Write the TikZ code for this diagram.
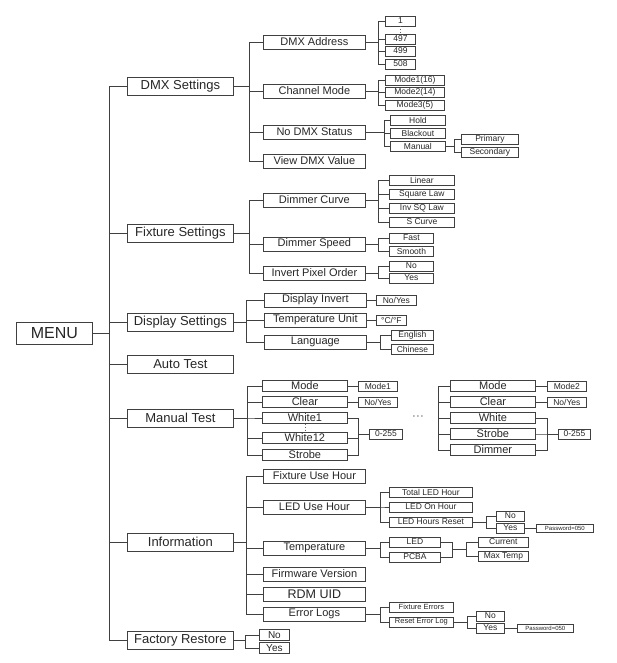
\documentclass[tikz,border=0pt]{standalone}
\usepackage{fontspec}
\setmainfont{Liberation Sans}
\begin{document}
\begin{tikzpicture}[x=1pt,y=-1pt,
  every node/.style={draw=black!75,line width=0.8pt,inner sep=0pt,anchor=west,text=black!85},
  LM/.style={minimum height=22pt,font=\fontsize{16}{16}\selectfont},
  LA/.style={minimum height=18pt,minimum width=106pt,font=\fontsize{13}{13}\selectfont},
  LB/.style={minimum height=14pt,font=\fontsize{11}{11}\selectfont},
  LC/.style={minimum height=10pt,font=\fontsize{8.5}{8.5}\selectfont},
  LD/.style={minimum height=8pt,font=\fontsize{6}{6}\selectfont},
  ln/.style={draw=black!75,line width=0.8pt}]
\useasboundingbox (0,0) rectangle (617,663);
\newcommand\tr[3]{\foreach \c in {#3} \draw[ln] (#1.east) -- ++(#2,0) |- (\c.west);}
\newcommand\bk[3]{\foreach \c in {#3} \draw[ln] (\c.east) -- ++(#2,0) |- (#1.west);}
% root
\node[LM,minimum width=76pt] (menu) at (16,333) {MENU};
\node[LA] (dmx) at (127,86) {DMX Settings};
\node[LA] (fix) at (127,233) {Fixture Settings};
\node[LA] (dsp) at (127,322) {Display Settings};
\node[LA] (aut) at (127,364) {Auto Test};
\node[LA] (man) at (127,418) {Manual Test};
\node[LA] (inf) at (127,542) {Information};
\node[LA] (fac) at (127,640) {Factory Restore};
\tr{menu}{17}{dmx,fix,dsp,aut,man,inf,fac}
% DMX
\begin{scope}[every node/.append style={minimum width=102pt}]
\node[LB] (da) at (263,42) {DMX Address};
\node[LB] (cm) at (263,91) {Channel Mode};
\node[LB] (nd) at (263,132) {No DMX Status};
\node[LB] (vd) at (263,161) {View DMX Value};
\end{scope}
\tr{dmx}{16}{da,cm,nd,vd}
\begin{scope}[every node/.append style={minimum width=30pt}]
\node[LC] (a1) at (385,21) {1};
\node[LC] (a2) at (385,39) {497};
\node[LC] (a3) at (385,51) {499};
\node[LC] (a4) at (385,64) {508};
\end{scope}
\draw[dotted,thick,black!60] (a1.south) -- (a2.north);
\tr{da}{13}{a1,a2,a3,a4}
\begin{scope}[every node/.append style={minimum width=59pt}]
\node[LC] (m1) at (385,80) {Mode1(16)};
\node[LC] (m2) at (385,92) {Mode2(14)};
\node[LC] (m3) at (385,105) {Mode3(5)};
\end{scope}
\tr{cm}{13}{m1,m2,m3}
\begin{scope}[every node/.append style={minimum width=55pt}]
\node[LC] (h1) at (390,120) {Hold};
\node[LC] (h2) at (390,133) {Blackout};
\node[LC] (h3) at (390,146) {Manual};
\end{scope}
\tr{nd}{19}{h1,h2,h3}
\begin{scope}[every node/.append style={minimum width=57pt}]
\node[LC] (p1) at (461,139) {Primary};
\node[LC] (p2) at (461,152) {Secondary};
\end{scope}
\tr{h3}{9}{p1,p2}
% Fixture
\begin{scope}[every node/.append style={minimum width=102pt}]
\node[LB] (dc) at (263,200) {Dimmer Curve};
\node[LB] (ds) at (263,244) {Dimmer Speed};
\node[LB] (ip) at (263,273) {Invert Pixel Order};
\end{scope}
\tr{fix}{16}{dc,ds,ip}
\begin{scope}[every node/.append style={minimum width=65pt}]
\node[LC] (c1) at (389,180) {Linear};
\node[LC] (c2) at (389,194) {Square Law};
\node[LC] (c3) at (389,208) {Inv SQ Law};
\node[LC] (c4) at (389,222) {S Curve};
\end{scope}
\tr{dc}{13}{c1,c2,c3,c4}
\begin{scope}[every node/.append style={minimum width=44pt}]
\node[LC] (s1) at (389,238) {Fast};
\node[LC] (s2) at (389,251) {Smooth};
\node[LC] (i1) at (389,266) {No};
\node[LC] (i2) at (389,278) {Yes};
\end{scope}
\tr{ds}{13}{s1,s2}
\tr{ip}{13}{i1,i2}
% Display
\begin{scope}[every node/.append style={minimum width=102pt}]
\node[LB] (di) at (264,300) {Display Invert};
\node[LB] (tu) at (264,320) {Temperature Unit};
\node[LB] (lg) at (264,342) {Language};
\end{scope}
\tr{dsp}{13}{di,tu,lg}
\node[LC,minimum width=40pt] (dy) at (376,300) {No/Yes};
\node[LC,minimum width=30pt] (cf) at (376,320) {°C/°F};
\draw[ln] (di) -- (dy); \draw[ln] (tu) -- (cf);
\node[LC,minimum width=42pt] (e1) at (391,335) {English};
\node[LC,minimum width=42pt] (e2) at (391,349) {Chinese};
\tr{lg}{14}{e1,e2}
% Manual test left
\begin{scope}[every node/.append style={minimum width=85pt,minimum height=11pt,font=\fontsize{11}{11}\selectfont}]
\node (mm) at (262,386) {Mode};
\node (mc) at (262,402) {Clear};
\node (w1) at (262,418) {White1};
\node (w2) at (262,438) {White12};
\node (ws) at (262,455) {Strobe};
\node (rm) at (450,386) {Mode};
\node (rc) at (450,402) {Clear};
\node (rw) at (450,418) {White};
\node (rs) at (450,434) {Strobe};
\node (rd) at (450,450) {Dimmer};
\end{scope}
\tr{man}{14}{mm,mc,w1,w2,ws}
\draw[dotted,thick,black!60] (w1.south) -- (w2.north);
\node[LC,minimum width=39pt] (md1) at (358,386) {Mode1};
\node[LC,minimum width=39pt] (ny1) at (358,402) {No/Yes};
\node[LC,minimum width=33pt] (z1) at (369,434) {0-255};
\draw[ln] (mm) -- (md1); \draw[ln] (mc) -- (ny1);
\bk{z1}{11}{w1,w2,ws}
\node[draw=none,font=\fontsize{12}{12}\selectfont\bfseries,anchor=center] (dots) at (418,417) {$\cdot\!\cdot\!\cdot$};
\coordinate (rg) at (438,418);
\foreach \c in {rm,rc,rw,rs,rd} \draw[ln] (\c.west) -| (rg);
\node[LC,minimum width=39pt] (md2) at (547,386) {Mode2};
\node[LC,minimum width=39pt] (ny2) at (547,402) {No/Yes};
\node[LC,minimum width=32pt] (z2) at (558,434) {0-255};
\draw[ln] (rm) -- (md2); \draw[ln] (rc) -- (ny2);
\bk{z2}{12}{rw,rs,rd}
% Information
\begin{scope}[every node/.append style={minimum width=102pt}]
\node[LB] (fu) at (263,476) {Fixture Use Hour};
\node[LB] (lu) at (263,507) {LED Use Hour};
\node[LB] (tp) at (263,548) {Temperature};
\node[LB] (fw) at (263,574) {Firmware Version};
\node[LB,font=\fontsize{12.5}{12.5}\selectfont] (rdm) at (263,594) {RDM UID};
\node[LB] (el) at (263,614) {Error Logs};
\end{scope}
\tr{inf}{13}{fu,lu,tp,fw,rdm,el}
\begin{scope}[every node/.append style={minimum width=83pt}]
\node[LC] (t1) at (389,492) {Total LED Hour};
\node[LC] (t2) at (389,507) {LED On Hour};
\node[LC] (t3) at (389,522) {LED Hours Reset};
\end{scope}
\tr{lu}{15}{t1,t2,t3}
\node[LC,minimum width=28pt] (r1) at (496,516) {No};
\node[LC,minimum width=28pt] (r2) at (496,528) {Yes};
\tr{t3}{14}{r1,r2}
\node[LD,minimum width=57pt] (pw1) at (536,528) {Password=050};
\draw[ln] (r2) -- (pw1);
\node[LC,minimum width=51pt] (tl) at (389,542) {LED};
\node[LC,minimum width=51pt] (tc) at (389,557) {PCBA};
\tr{tp}{15}{tl,tc}
\coordinate (tm) at (452,549.5);
\draw[ln] (tl.east) -| (tm); \draw[ln] (tc.east) -| (tm);
\node[LC,minimum width=50pt] (cu) at (478,542) {Current};
\node[LC,minimum width=50pt] (mx) at (478,556) {Max Temp};
\foreach \c in {cu,mx} \draw[ln] (tm) -- ++(14,0) |- (\c.west);
\node[LC,minimum width=64pt,font=\fontsize{7.5}{7.5}\selectfont] (f1) at (389,607) {Fixture Errors};
\node[LC,minimum width=64pt,font=\fontsize{7.5}{7.5}\selectfont] (f2) at (389,622) {Reset Error Log};
\tr{el}{15}{f1,f2}
\node[LC,minimum width=28pt] (q1) at (476,616) {No};
\node[LC,minimum width=28pt] (q2) at (476,628) {Yes};
\tr{f2}{14}{q1,q2}
\node[LD,minimum width=56pt] (pw2) at (517,628) {Password=050};
\draw[ln] (q2) -- (pw2);
% Factory
\node[LC,minimum width=30pt,minimum height=11pt,font=\fontsize{10}{10}\selectfont] (g1) at (259,635) {No};
\node[LC,minimum width=30pt,minimum height=11pt,font=\fontsize{10}{10}\selectfont] (g2) at (259,648) {Yes};
\foreach \c in {g1,g2} \draw[ln] (fac.east) -- ++(12,0) |- (\c.west);
\end{tikzpicture}
\end{document}
